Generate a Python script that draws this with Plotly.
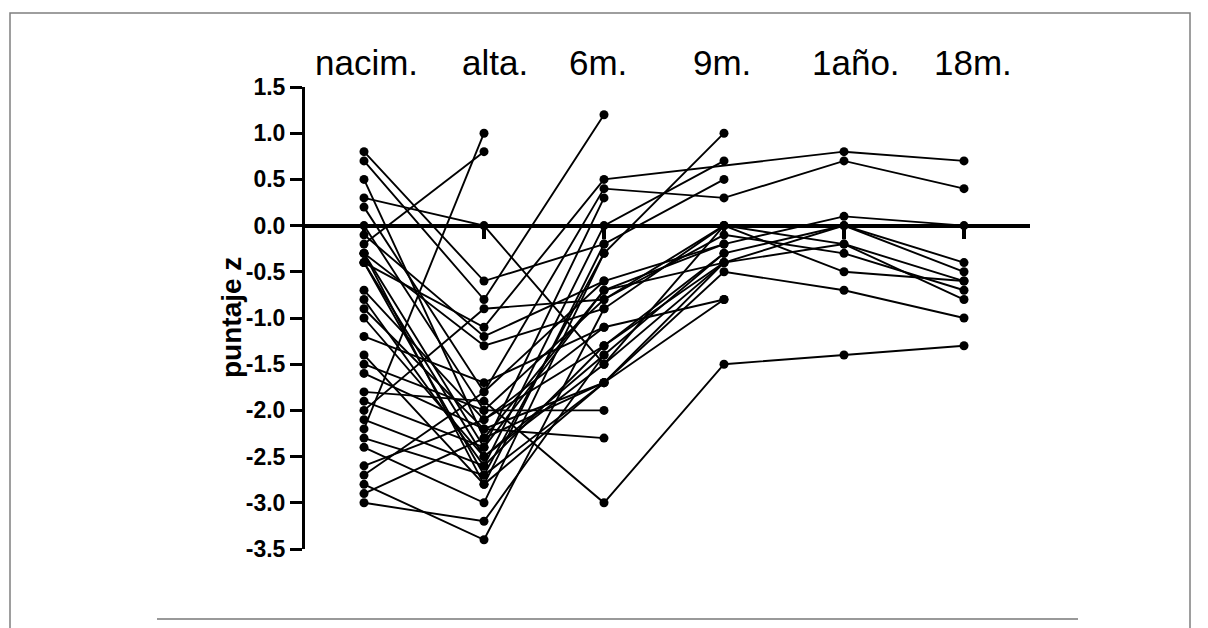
import plotly.graph_objects as go

categories = ["nacim.", "alta.", "6m.", "9m.", "1año.", "18m."]

# one entry per subject (None = no measurement at that time point)
nacim = [0.8, 0.7, 0.5, 0.3, 0.2, 0.0, -0.1, -0.2, -0.3, -0.3, -0.4, -0.4, -0.7, -0.8, -0.9, -1.0, -1.2,
         -1.4, -1.5, -1.6, -1.8, -1.9, -2.0, -2.1, -2.2, -2.3, -2.4, -2.6, -2.7, -2.8, -2.9, -3.0, -0.3, -0.4]
alta = [-0.6, -0.8, -2.3, 0.0, -1.8, -2.0, -1.2, 0.8, -2.4, -1.3, -2.7, -1.1, -2.1, -2.6, -2.2, -2.5, -1.7,
        -2.8, -2.0, -2.2, -1.9, -2.4, -0.9, -2.6, 1.0, -2.7, -3.0, -2.1, -1.8, -3.4, -2.3, -3.2, -2.8, -2.5]
m6 = [-0.2, 1.2, -0.7, -1.5, 0.4, -0.8, -0.6, None, 0.3, -0.9, -0.3, 0.5, -1.3, 0.0, -1.7, -1.4, -1.1,
      -1.7, -2.0, -2.3, -3.0, -0.7, -0.8, -1.3, None, -1.7, -0.3, -1.1, -0.6, -0.9, -1.7, -1.4, -0.2, -1.5]
m9 = [0.5, None, -0.4, -0.4, 0.3, -0.1, -0.2, None, None, 0.0, 1.0, None, -0.4, 0.7, -0.5, -0.3, -0.8,
      None, None, None, -1.5, -0.2, 0.0, -0.3, None, -0.4, None, None, None, None, -0.8, None, None, 0.0]
a1 = [None, None, 0.0, -0.2, 0.7, -0.3, None, None, None, -0.5, None, 0.8, None, None, -0.7, 0.0, None,
      None, None, None, -1.4, 0.1, -0.2, None, None, None, None, None, None, None, None, None, None, None]
m18 = [None, None, -0.4, -0.6, 0.4, -0.7, None, None, None, -0.6, None, 0.7, None, None, -1.0, -0.5, None,
       None, None, None, -1.3, 0.0, -0.8, None, None, None, None, None, None, None, None, None, None, None]

yticks = [1.5, 1.0, 0.5, 0.0, -0.5, -1.0, -1.5, -2.0, -2.5, -3.0, -3.5]
label_shift = [2, 11, -6, -2, 12, 9]

fig = go.Figure()
xs = list(range(len(categories)))
for subj in zip(nacim, alta, m6, m9, a1, m18):
    fig.add_trace(go.Scatter(
        x=xs, y=list(subj), mode="lines+markers", connectgaps=True,
        line=dict(color="black", width=1.9),
        marker=dict(color="black", size=9),
        cliponaxis=False, showlegend=False, hoverinfo="skip"))

# plot area in pixels: x 305..1030, y 87..549
L, R, T, B = 305, 1030, 87, 549
W, H = 1208, 628
def px(x):
    return (x - L) / (R - L)
def py(y):
    return (B - y) / (B - T)

for i, c in enumerate(categories):
    fig.add_annotation(x=i, xref="x", y=py(63), yref="paper", text=c, showarrow=False,
                       xanchor="center", yanchor="middle", xshift=label_shift[i],
                       font=dict(family="Liberation Sans, Arial", size=35, color="black"))

fig.add_annotation(x=px(231), xref="paper", y=0.5, yref="paper", text="puntaje z", textangle=-90,
                   showarrow=False, xanchor="center", yanchor="middle",
                   font=dict(family="Liberation Sans, Arial", size=28, color="black", weight="bold"))

# outer frame and bottom rule
fig.add_shape(type="rect", xref="paper", yref="paper", x0=px(10), x1=px(1190), y0=py(640), y1=py(13),
              line=dict(color="#7f7f7f", width=1.5), fillcolor="rgba(0,0,0,0)", layer="below")
fig.add_shape(type="line", xref="paper", yref="paper", x0=px(157), x1=px(1078), y0=py(619), y1=py(619),
              line=dict(color="#999999", width=2))

x0 = (L - 364) / 120
x1 = (R - 364) / 120
fig.update_layout(
    width=W, height=H,
    margin=dict(l=L, r=W - R, t=T, b=H - B, pad=0),
    paper_bgcolor="white", plot_bgcolor="white",
    xaxis=dict(range=[x0, x1], anchor="free", position=0.7, showline=True, linecolor="black",
               linewidth=4, ticks="outside", tickvals=xs, ticklen=11, tickwidth=4, tickcolor="black",
               showticklabels=False, showgrid=False, zeroline=False),
    yaxis=dict(range=[-3.5, 1.5], showline=True, linecolor="black", linewidth=3,
               ticks="outside", ticklen=12, tickwidth=3, tickcolor="black",
               tickvals=yticks, ticktext=[f"{v:.1f}" for v in yticks],
               tickfont=dict(family="Liberation Sans, Arial", size=23, color="black", weight="bold"),
               showgrid=False, zeroline=False),
)

fig.write_html("out.html")
